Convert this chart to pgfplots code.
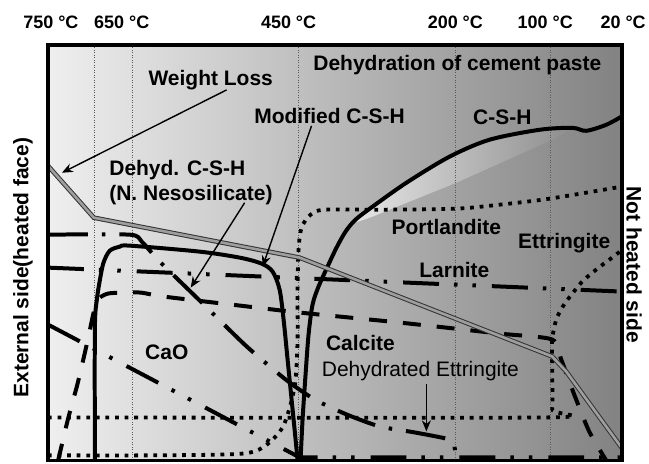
\documentclass[border=0pt]{standalone}
\usepackage{pgfplots}
\pgfplotsset{compat=1.18}
\usepackage{fontspec}
\setmainfont{Liberation Sans}
\usetikzlibrary{arrows.meta}

\definecolor{bgL}{HTML}{EFEFEF}
\definecolor{bgM}{HTML}{BEBEBE}
\definecolor{bgR}{HTML}{828282}
\definecolor{wedgeL}{HTML}{E8E8E8}
\definecolor{wedgeR}{HTML}{8C8C8C}

\newcommand\lab{\bfseries\fontsize{21bp}{25bp}\selectfont}
\newcommand\tmp{\bfseries\fontsize{18bp}{21bp}\selectfont}

\tikzset{
  thick line/.style={line width=4bp, black},
  dotted line/.style={line width=3.8bp, black, dash pattern=on 3.8bp off 5.8bp},
  dashed line/.style={line width=4bp, black, dash pattern=on 18bp off 16bp},
  dash dot line/.style={line width=4bp, black, dash pattern=on 40bp off 14bp on 3.5bp off 14bp},
  dash dot dot line/.style={line width=4bp, black, dash pattern=on 36bp off 15bp on 3.5bp off 15bp on 3.5bp off 16bp},
  grid line/.style={line width=0.7bp, black!65, dash pattern=on 1bp off 1.5bp},
  pointer/.style={line width=1.4bp, black, -{Stealth[length=11bp,width=9bp]}},
}

\begin{document}
\begin{tikzpicture}
\begin{axis}[
  scale only axis, width=575bp, height=416bp,
  xmin=48, xmax=623, ymin=45, ymax=461, y dir=reverse,
  ticks=none, clip=false, axis on top,
  axis line style={line width=3.5bp},
]
% background shading
\addplot[draw=none, left color=bgL, middle color=bgM, right color=bgR]
  coordinates {(48,45) (623,45) (623,461) (48,461)} -- cycle;
% light wedge under C-S-H
\addplot[draw=none, left color=wedgeL, right color=wedgeR]
  coordinates {(350,225) (373,207) (407,183) (450,157) (490,140) (540,130) (575,128)
               (553,140) (457,183) (373,217)} -- cycle;

% vertical temperature lines
\addplot[grid line] coordinates {(94,45) (94,461)};
\addplot[grid line] coordinates {(133,45) (133,461)};
\addplot[grid line] coordinates {(299,45) (299,461)};
\addplot[grid line] coordinates {(456,45) (456,461)};
\addplot[grid line] coordinates {(551,45) (551,461)};

% Larnite
\addplot[dash dot dot line] coordinates {(48,268) (623,292)};
% lower dash-dot-dot line
\addplot[dash dot dot line] coordinates {(48,325) (300,458) (623,458)};
% upper dash-dot line
\addplot[dash dot line, smooth, tension=0.4] coordinates {
  (48,235) (130,235) (142,242) (160,262) (200,301) (246,346) (286,380) (315,400)
  (347,415) (380,427) (415,433) (450,440) (455,446) (456,461)};
% Calcite
\addplot[dashed line, smooth, tension=0.4] coordinates {
  (58,462) (68,420) (78,383) (88,340) (94,312) (99,299) (108,294) (123,293) (141,293)
  (164,297) (240,306) (300,313) (400,323) (500,334) (553,340) (562,360) (575,395)
  (590,432) (607,461)};
% Portlandite
\addplot[dotted line, smooth, tension=0.5] coordinates {
  (48,456) (150,456) (230,455) (255,452) (270,443) (283,428) (291,405) (296,380)
  (298,340) (298,290) (299,250) (302,228) (311,215) (325,210) (380,210) (456,209)
  (500,205) (550,199) (622,187)};
% Dehydrated ettringite / Ettringite
\addplot[dotted line, smooth, tension=0.4] coordinates {
  (48,418) (548,418) (553,410) (553,370) (553,340) (557,320) (563,308) (570,298)
  (583,282) (597,270) (613,258) (622,251)};
% Modified C-S-H
\addplot[thick line, smooth, tension=0.5] coordinates {
  (95,461) (95,330) (97,300) (101,275) (104,262) (110,251) (120,247) (130,246)
  (200,252) (240,258) (262,264) (273,272) (280,290) (284,320) (288,360) (292,400)
  (296,440) (298,461)};
% C-S-H
\addplot[thick line, smooth, tension=0.5] coordinates {
  (301,461) (303,420) (306,375) (309,335) (313,305) (319,287) (328,267) (337,248)
  (346,232) (356,220) (373,207) (407,183) (450,157) (490,140) (540,130) (573,128)
  (587,131) (607,125) (622,117)};
% Weight loss
\addplot[line width=1bp, black!80, double=black!38, double distance=2.6bp]
  coordinates {(48,166) (94,218) (300,258) (553,357) (567,372) (623,449)};

% pointers
\addplot[pointer] coordinates {(227,90) (62,173)};
\addplot[pointer] coordinates {(245,203) (191,288)};
\addplot[pointer] coordinates {(312,126) (263,267)};
\addplot[pointer] coordinates {(427,385) (427,432)};

% labels
\node[font=\lab] at (211,80) {Weight Loss};
\node[font=\lab] at (330,116) {Modified C-S-H};
\node[font=\lab, align=left, anchor=west] at (106,183) {Dehyd. C-S-H\\(N. Nesosilicate)};
\node[font=\lab] at (458,65) {Dehydration of cement paste};
\node[font=\lab] at (503,117) {C-S-H};
\node[font=\lab] at (447,227) {Portlandite};
\node[font=\lab] at (565,243) {Ettringite};
\node[font=\lab] at (455,270) {Larnite};
\node[font=\lab] at (361,343) {Calcite};
\node[font=\fontsize{21bp}{25bp}\selectfont] at (421,372) {Dehydrated Ettringite};
\node[font=\lab] at (167,353) {CaO};
\node[font=\lab, rotate=90] at (23,268) {External side(heated face)};
\node[font=\lab, rotate=-90] at (635,265) {Not heated side};

\node[font=\tmp] at (51,22) {750 °C};
\node[font=\tmp] at (122,22) {650 °C};
\node[font=\tmp] at (289,22) {450 °C};
\node[font=\tmp] at (456,22) {200 °C};
\node[font=\tmp] at (546,22) {100 °C};
\node[font=\tmp] at (624,22) {20 °C};

\path (0,0) rectangle (649,464);
\end{axis}
\end{tikzpicture}
\end{document}
